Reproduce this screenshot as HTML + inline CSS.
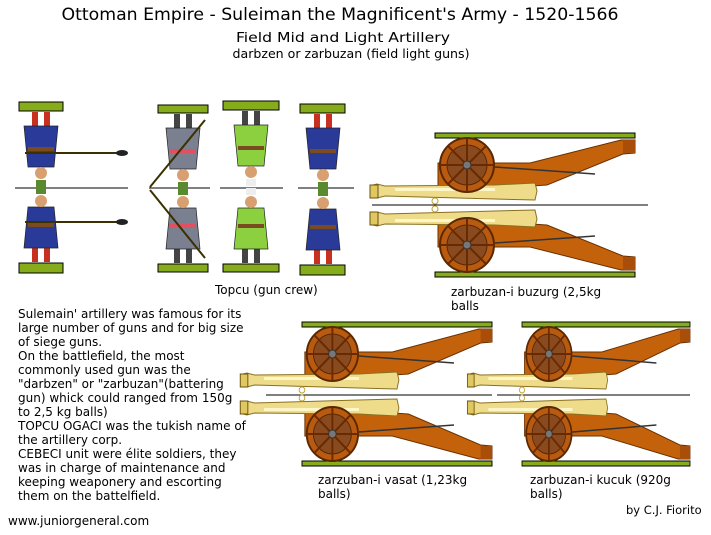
<!DOCTYPE html>
<html><head><meta charset="utf-8"><style>
html,body{margin:0;padding:0;background:#fff;}
svg{display:block;}
text{font-family:"DejaVu Sans","Liberation Sans",sans-serif;fill:#000;}
</style></head><body>
<svg width="711" height="535" viewBox="0 0 711 535" xmlns="http://www.w3.org/2000/svg">
<defs>
  <g id="half">
    <rect x="0" y="0" width="200" height="5" fill="#86ac1c" stroke="#000" stroke-width="1"/>
    <polygon points="3,30 95,30 186,7 200,7 200,20 188,21 112,52 3,59" fill="#c4620c" stroke="#6a3000" stroke-width="1"/>
    <rect x="188" y="7" width="12" height="13" fill="#a84e08"/>
    <line x1="60" y1="34" x2="160" y2="41" stroke="#333" stroke-width="1.5"/>
    <polygon points="-62,52 -58,51 -50,53 60,52 100,50 102,58 100,67 60,66 -50,63 -58,65 -62,64" fill="#eedc8a" stroke="#8a7020" stroke-width="1"/>
    <rect x="-65" y="52" width="8" height="13" fill="#e0c860" stroke="#6a5010"/>
    <rect x="-40" y="55" width="100" height="3" fill="#fff6c8"/>
    <circle cx="0" cy="68" r="3" fill="none" stroke="#c0a030"/>
    <circle cx="32" cy="32" r="27" fill="#b85a10" stroke="#5a2800" stroke-width="2"/>
    <circle cx="32" cy="32" r="20" fill="#8a4a20" stroke="#5a2800" stroke-width="1"/>
    <g stroke="#6a2a00" stroke-width="2">
      <line x1="5" y1="32" x2="59" y2="32"/><line x1="32" y1="5" x2="32" y2="59"/>
      <line x1="13" y1="13" x2="51" y2="51"/><line x1="13" y1="51" x2="51" y2="13"/>
    </g>
    <circle cx="32" cy="32" r="4" fill="#777" stroke="#333"/>
  </g>
  <g id="cannon">
    <use href="#half"/>
    <use href="#half" transform="translate(0,144) scale(1,-1)"/>
  </g>
  <g id="fig">
    <rect x="-9" y="-17" width="6" height="16" fill="var(--leg)"/>
    <rect x="3" y="-17" width="6" height="16" fill="var(--leg)"/>
    <polygon points="-13,-56 13,-56 17,-15 -17,-15" fill="var(--coat)" stroke="#222" stroke-width="0.7"/>
    <rect x="-13" y="-40" width="26" height="4" fill="var(--belt)"/>
    <circle cx="0" cy="-62" r="6" fill="#d8a070"/>
    <ellipse cx="0" cy="-69" rx="var(--hr)" ry="4" fill="var(--hat)"/>
    <rect x="-5" y="-76" width="10" height="7" fill="var(--hat)"/>
  </g>
</defs>

<text x="340" y="20" text-anchor="middle" font-size="17" style="font-family:'DejaVu Sans Condensed','DejaVu Sans',sans-serif" textLength="557" lengthAdjust="spacingAndGlyphs">Ottoman Empire - Suleiman the Magnificent's Army - 1520-1566</text>
<text x="343" y="42" text-anchor="middle" font-size="13" style="font-family:'DejaVu Sans Condensed','DejaVu Sans',sans-serif" textLength="214" lengthAdjust="spacingAndGlyphs">Field Mid and Light Artillery</text>
<text x="351" y="58" text-anchor="middle" font-size="12" style="font-family:'DejaVu Sans Condensed','DejaVu Sans',sans-serif" textLength="237" lengthAdjust="spacingAndGlyphs">darbzen or zarbuzan (field light guns)</text>

<g stroke="#000" stroke-width="1" fill="#86ac1c">
  <rect x="19" y="102" width="44" height="9"/><rect x="19" y="263" width="44" height="10"/>
  <rect x="158" y="105" width="50" height="8"/><rect x="158" y="264" width="50" height="8"/>
  <rect x="223" y="101" width="56" height="9"/><rect x="223" y="264" width="56" height="8"/>
  <rect x="300" y="104" width="45" height="9"/><rect x="300" y="265" width="45" height="10"/>
</g>
<g stroke="#000" stroke-width="1">
  <line x1="15" y1="188" x2="128" y2="188"/>
  <line x1="149" y1="188" x2="210" y2="188"/>
  <line x1="220" y1="188" x2="283" y2="188"/>
  <line x1="298" y1="188" x2="354" y2="188"/>
</g>
<g style="--leg:#c83020;--coat:#2a3a98;--belt:#7a4a20;--hat:#5a8a30;--hr:13px">
  <use href="#fig" transform="translate(41,263)"/>
  <use href="#fig" transform="translate(41,111) scale(1,-1)"/>
  <use href="#fig" transform="translate(323,265)"/>
  <use href="#fig" transform="translate(323,113) scale(1,-1)"/>
</g>
<g style="--leg:#444;--coat:#7a8090;--belt:#e05060;--hat:#5a8a30;--hr:13px">
  <use href="#fig" transform="translate(183,264)"/>
  <use href="#fig" transform="translate(183,113) scale(1,-1)"/>
</g>
<g style="--leg:#444;--coat:#8cd040;--belt:#7a4a20;--hat:#eeeeee;--hr:8px">
  <use href="#fig" transform="translate(251,264)"/>
  <use href="#fig" transform="translate(251,110) scale(1,-1)"/>
</g>
<g stroke="#3a3000" stroke-width="2">
  <line x1="25" y1="153" x2="118" y2="153"/><line x1="25" y1="222" x2="118" y2="222"/>
  <line x1="150" y1="187" x2="205" y2="120"/><line x1="150" y1="190" x2="205" y2="258"/>
</g>
<g fill="#222"><ellipse cx="122" cy="153" rx="6" ry="3"/><ellipse cx="122" cy="222" rx="6" ry="3"/></g>

<line x1="372" y1="205" x2="648" y2="205" stroke="#000"/>
<use href="#cannon" transform="translate(435,133)"/>
<line x1="266" y1="395" x2="492" y2="395" stroke="#000"/>
<use href="#cannon" transform="translate(302,322) scale(0.95,1)"/>
<line x1="497" y1="395" x2="690" y2="395" stroke="#000"/>
<use href="#cannon" transform="translate(522,322) scale(0.84,1)"/>

<g font-size="12">
<text x="215" y="294">Topcu (gun crew)</text>
<text x="451" y="296">zarbuzan-i buzurg (2,5kg</text>
<text x="451" y="310">balls</text>
<text x="318" y="484">zarzuban-i vasat (1,23kg</text>
<text x="318" y="498">balls)</text>
<text x="530" y="484">zarbuzan-i kucuk (920g</text>
<text x="530" y="498">balls)</text>
<text x="626" y="514" font-size="11.5">by C.J. Fiorito</text>
<text x="8" y="525" font-size="12">www.juniorgeneral.com</text>
</g>
<g font-size="12">
<text x="18" y="318">Sulemain' artillery was famous for its</text>
<text x="18" y="332">large number of guns and for big size</text>
<text x="18" y="346">of siege guns.</text>
<text x="18" y="360">On the battlefield, the most</text>
<text x="18" y="374">commonly used gun was the</text>
<text x="18" y="388">"darbzen" or "zarbuzan"(battering</text>
<text x="18" y="402">gun) whick could ranged from 150g</text>
<text x="18" y="416">to 2,5 kg balls)</text>
<text x="18" y="430">TOPCU OGACI was the tukish name of</text>
<text x="18" y="444">the artillery corp.</text>
<text x="18" y="458">CEBECI unit were élite soldiers, they</text>
<text x="18" y="472">was in charge of maintenance and</text>
<text x="18" y="486">keeping weaponery and escorting</text>
<text x="18" y="500">them on the battelfield.</text>
</g>
</svg>
</body></html>
